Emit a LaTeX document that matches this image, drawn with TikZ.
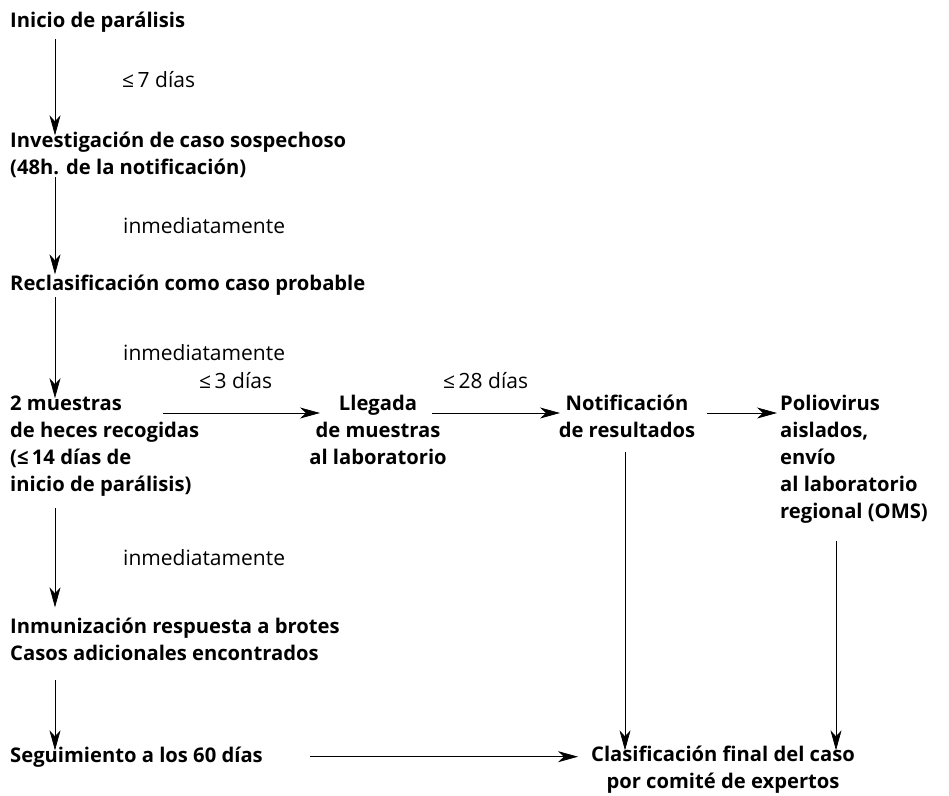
\documentclass[tikz,border=0pt]{standalone}
\usepackage{fontspec}
\setmainfont{Open Sans}
\usetikzlibrary{arrows.meta}
\tikzset{
  paso/.style={font=\bfseries\fontsize{20.2}{27}\selectfont, inner sep=0pt, align=left},
  plazo/.style={font=\fontsize{21}{27}\selectfont, inner sep=0pt, anchor=base west},
  flecha/.style={-{Stealth[length=20pt,width=11pt,inset=6pt]}, line width=0.7pt}
}
\begin{document}
\begin{tikzpicture}[x=1pt,y=-1pt]
    \useasboundingbox (0,0) rectangle (949,795);
    \coordinate (eje) at (55,0);
    \coordinate (fila) at (0,413);
    \node[paso, anchor=base west] (inicio) at (10,27) {Inicio de parálisis};
    \node[paso, anchor=base west] (invest) at (10,174) {Investigación de caso sospechoso\\(48h. de la notificación)};
    \node[paso, anchor=base west] (reclas) at (10,290) {Reclasificación como caso probable};
    \node[paso, anchor=base west] (muestras) at (10,491) {2 muestras\\de heces recogidas\\(≤\,14 días de\\inicio de parálisis)};
    \node[paso, align=center, anchor=base] (llegada) at (378,464) {Llegada\\de muestras\\al laboratorio};
    \node[paso, align=center, anchor=base] (notif) at (627,437) {Notificación\\de resultados};
    \node[paso, anchor=base west] (polio) at (780,518) {Poliovirus\\aislados,\\envío\\al laboratorio\\regional (OMS)};
    \node[paso, anchor=base west] (inmun) at (10,660) {Inmunización respuesta a brotes\\Casos adicionales encontrados};
    \node[paso, anchor=base west] (seguim) at (10,762) {Seguimiento a los 60 días};
    \node[paso, align=center, anchor=base] (clasif) at (723,788) {Clasificación final del caso\\por comité de expertos};
    \node[plazo] (p7) at (122,87) {≤\,7 días};
    \node[plazo] (inm1) at (123,233) {inmediatamente};
    \node[plazo] (inm2) at (123,360) {inmediatamente};
    \node[plazo] (p3) at (199,388) {≤\,3 días};
    \node[plazo] (p28) at (443,388) {≤\,28 días};
    \node[plazo] (inm3) at (123,565) {inmediatamente};
    \draw[flecha, shorten <=7pt, shorten >=-4pt] (inicio.south -| eje) -- (invest.north -| eje);
    \draw[flecha, shorten >=0pt] (invest.south -| eje) -- (reclas.north -| eje);
    \draw[flecha, shorten <=2pt, shorten >=-3pt] (reclas.south -| eje) -- (muestras.north -| eje);
    \draw[flecha, shorten <=12pt, shorten >=10pt] (muestras.south -| eje) -- (inmun.north -| eje);
    \draw[flecha, shorten <=20pt, shorten >=-4pt] (inmun.south -| eje) -- (seguim.north -| eje);
    \draw[flecha] ([xshift=153pt]muestras.west |- fila) -- ([xshift=-58pt]llegada.base |- fila);
    \draw[flecha] ([xshift=54pt]llegada.base |- fila) -- ([xshift=-67pt]notif.base |- fila);
    \draw[flecha] ([xshift=80pt]notif.base |- fila) -- ([xshift=-3pt]polio.west |- fila);
    \draw[flecha] ([xshift=300pt]seguim.west) -- ([xshift=-145pt]clasif.base |- seguim.west);
    \draw[flecha, shorten <=15pt, shorten >=-5pt] ([xshift=-2pt]notif.south) -- ([xshift=-2pt]notif.south |- clasif.north);
    \draw[flecha, shorten <=18pt, shorten >=-5pt] ([xshift=56pt]polio.south west) -- ([xshift=56pt]polio.south west |- clasif.north);
\end{tikzpicture}
\end{document}
